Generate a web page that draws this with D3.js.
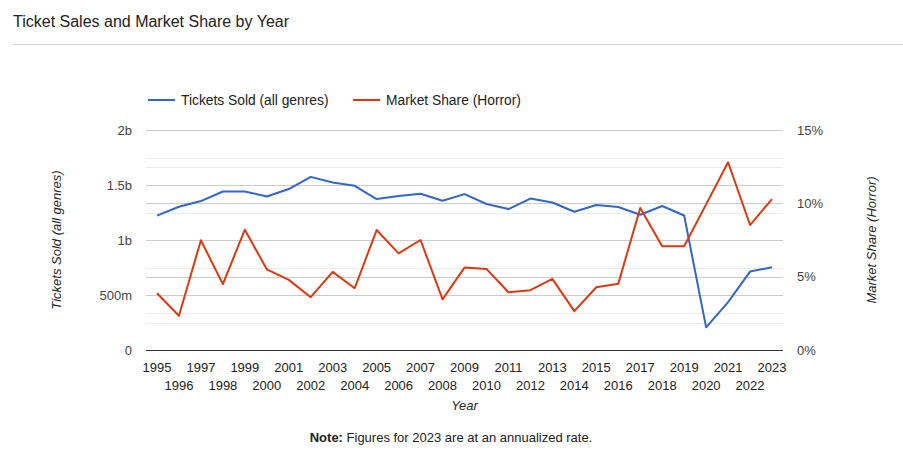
<!DOCTYPE html>
<html>
<head>
<meta charset="utf-8">
<script src="https://cdn.jsdelivr.net/npm/d3@7"></script>
<style>
  body { margin: 0; background: #fff; }
  svg text { font-family: "Liberation Sans", Arial, sans-serif; }
</style>
</head>
<body>
<div id="chart"></div>
<script>
// Chart data
var years = [1995, 1996, 1997, 1998, 1999, 2000, 2001, 2002, 2003, 2004,
             2005, 2006, 2007, 2008, 2009, 2010, 2011, 2012, 2013, 2014,
             2015, 2016, 2017, 2018, 2019, 2020, 2021, 2022, 2023];
// tickets sold, all genres (millions)
var ticketsSold = [1221, 1302, 1354, 1441, 1441, 1396, 1463, 1574, 1522, 1493,
                   1372, 1399, 1420, 1357, 1417, 1327, 1281, 1377, 1341, 1257,
                   1318, 1300, 1230, 1309, 1223, 206, 435, 713, 752];
// horror market share (%)
var marketShare = [3.87, 2.34, 7.48, 4.49, 8.2, 5.5, 4.78, 3.6, 5.33, 4.21,
                   8.18, 6.59, 7.5, 3.45, 5.62, 5.53, 3.94, 4.08, 4.85, 2.65,
                   4.28, 4.51, 9.68, 7.07, 7.07, 9.93, 12.8, 8.52, 10.29];
var leftTicks = [0, 500, 1000, 1500, 2000];
var leftTickLabels = ["0", "500m", "1b", "1.5b", "2b"];
var leftMinorTicks = [250, 750, 1250, 1750];
var rightTicks = [0, 5, 10, 15];
var rightTickLabels = ["0%", "5%", "10%", "15%"];
var rightMinorTicks = [2.5, 7.5, 12.5];

var seriesNames = ["Tickets Sold (all genres)", "Market Share (Horror)"];
var seriesColors = ["#3366cc", "#dc3912"];

function createChart() {
    var width = 903, height = 459;
    var margin = { top: 130, right: 120, bottom: 109, left: 146 };
    var plotW = 783 - margin.left;
    var plotH = 350 - margin.top;

    var svg = d3.select("#chart").append("svg")
        .attr("width", width)
        .attr("height", height);

    // title and separator
    svg.append("text")
        .attr("x", 13).attr("y", 27)
        .attr("font-size", 16).attr("fill", "#222")
        .text("Ticket Sales and Market Share by Year");
    svg.append("line")
        .attr("x1", 13).attr("x2", 903).attr("y1", 44.5).attr("y2", 44.5)
        .attr("stroke", "#d6d6d6");

    var g = svg.append("g")
        .attr("transform", "translate(" + margin.left + "," + margin.top + ")");

    var xScale = d3.scaleBand()
        .domain(years)
        .range([0, plotW]);
    var xPos = function (d, i) { return xScale(years[i]) + xScale.bandwidth() / 2; };

    var yLeft = d3.scaleLinear().domain([0, 2000]).range([plotH, 0]);
    var yRight = d3.scaleLinear().domain([0, 15]).range([plotH, 0]);

    // minor gridlines
    g.selectAll(".minorL").data(leftMinorTicks).enter().append("line")
        .attr("x1", 0).attr("x2", plotW)
        .attr("y1", function (d) { return Math.round(yLeft(d)) + 0.5; })
        .attr("y2", function (d) { return Math.round(yLeft(d)) + 0.5; })
        .attr("stroke", "#ebebeb");
    g.selectAll(".minorR").data(rightMinorTicks).enter().append("line")
        .attr("x1", 0).attr("x2", plotW)
        .attr("y1", function (d) { return Math.round(yRight(d)) + 0.5; })
        .attr("y2", function (d) { return Math.round(yRight(d)) + 0.5; })
        .attr("stroke", "#ebebeb");

    // major gridlines
    g.selectAll(".majorL").data(leftTicks.slice(1)).enter().append("line")
        .attr("x1", 0).attr("x2", plotW)
        .attr("y1", function (d) { return Math.round(yLeft(d)) + 0.5; })
        .attr("y2", function (d) { return Math.round(yLeft(d)) + 0.5; })
        .attr("stroke", "#cccccc");
    g.selectAll(".majorR").data(rightTicks.slice(1)).enter().append("line")
        .attr("x1", 0).attr("x2", plotW)
        .attr("y1", function (d) { return Math.round(yRight(d)) + 0.5; })
        .attr("y2", function (d) { return Math.round(yRight(d)) + 0.5; })
        .attr("stroke", "#cccccc");

    // left axis
    var yAxisLeft = d3.axisLeft(yLeft)
        .tickValues(leftTicks)
        .tickSize(0).tickPadding(14)
        .tickFormat(function (d, i) { return leftTickLabels[i]; });
    var gl = g.append("g").call(yAxisLeft);
    gl.select(".domain").remove();
    gl.selectAll("text").attr("font-size", 13).attr("fill", "#444")
        .attr("font-family", "Liberation Sans, Arial, sans-serif");

    // right axis
    var yAxisRight = d3.axisRight(yRight)
        .tickValues(rightTicks)
        .tickSize(0).tickPadding(14)
        .tickFormat(function (d, i) { return rightTickLabels[i]; });
    var gr = g.append("g").attr("transform", "translate(" + plotW + ",0)").call(yAxisRight);
    gr.select(".domain").remove();
    gr.selectAll("text").attr("font-size", 13).attr("fill", "#444")
        .attr("font-family", "Liberation Sans, Arial, sans-serif");

    // x axis labels, staggered in two rows
    var xAxis = d3.axisBottom(xScale).tickSize(0).tickPadding(0);
    var gx = g.append("g").attr("transform", "translate(0," + plotH + ")").call(xAxis);
    gx.select(".domain").remove();
    gx.selectAll("text")
        .attr("font-size", 13).attr("fill", "#222")
        .attr("font-family", "Liberation Sans, Arial, sans-serif")
        .attr("dy", null)
        .attr("y", function (d, i) { return i % 2 === 0 ? 22 : 40; });

    // baseline
    g.append("line")
        .attr("x1", 0).attr("x2", plotW)
        .attr("y1", plotH + 0.5).attr("y2", plotH + 0.5)
        .attr("stroke", "#333");

    // lines
    var lineLeft = d3.line()
        .x(xPos)
        .y(function (d) { return yLeft(d); });
    var lineRight = d3.line()
        .x(xPos)
        .y(function (d) { return yRight(d); });

    g.append("path").datum(ticketsSold)
        .attr("d", lineLeft)
        .attr("fill", "none").attr("stroke", seriesColors[0])
        .attr("stroke-width", 2).attr("stroke-linejoin", "round");
    g.append("path").datum(marketShare)
        .attr("d", lineRight)
        .attr("fill", "none").attr("stroke", seriesColors[1])
        .attr("stroke-width", 2).attr("stroke-linejoin", "round");

    // axis titles
    svg.append("text")
        .attr("transform", "translate(61," + (margin.top + plotH / 2) + ") rotate(-90)")
        .attr("text-anchor", "middle")
        .attr("font-size", 13).attr("font-style", "italic").attr("fill", "#222")
        .text(seriesNames[0]);
    svg.append("text")
        .attr("transform", "translate(876," + (margin.top + plotH / 2) + ") rotate(-90)")
        .attr("text-anchor", "middle")
        .attr("font-size", 13).attr("font-style", "italic").attr("fill", "#222")
        .text(seriesNames[1]);
    svg.append("text")
        .attr("x", margin.left + plotW / 2).attr("y", 410)
        .attr("text-anchor", "middle")
        .attr("font-size", 13).attr("font-style", "italic").attr("fill", "#222")
        .text("Year");

    // legend
    var legendX = [148, 353];
    var legend = svg.selectAll(".legend").data(seriesNames).enter().append("g")
        .attr("transform", function (d, i) { return "translate(" + legendX[i] + ",100)"; });
    legend.append("line")
        .attr("x1", 0).attr("x2", 27).attr("y1", 0).attr("y2", 0)
        .attr("stroke", function (d, i) { return seriesColors[i]; })
        .attr("stroke-width", 2);
    legend.append("text")
        .attr("x", 33).attr("y", 5)
        .attr("font-size", 13.8).attr("fill", "#222")
        .text(function (d) { return d; });

    // note
    var note = svg.append("text")
        .attr("x", 451).attr("y", 442)
        .attr("text-anchor", "middle")
        .attr("font-size", 13).attr("fill", "#222");
    note.append("tspan").attr("font-weight", "bold").text("Note:");
    note.append("tspan").text(" Figures for 2023 are at an annualized rate.");
}

createChart();
</script>
</body>
</html>
